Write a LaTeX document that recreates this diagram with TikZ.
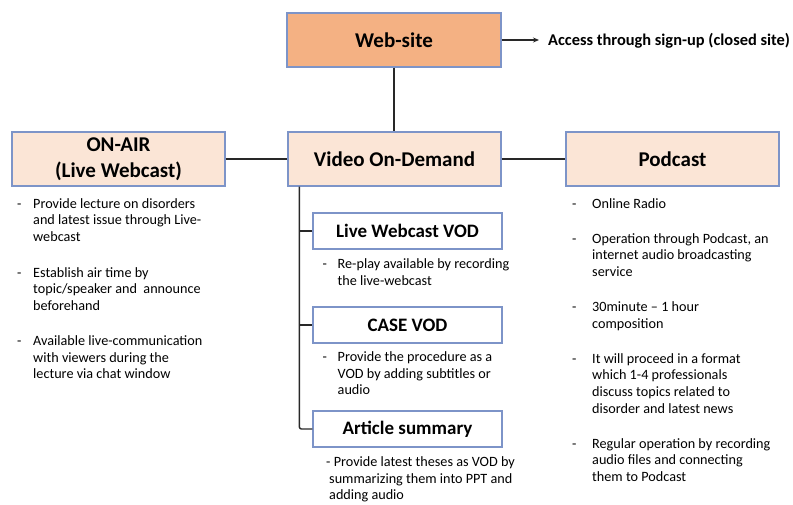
\documentclass[tikz,border=0pt]{standalone}
\usepackage{fontspec}
\setmainfont{Carlito}
\usetikzlibrary{arrows.meta,calc}
\definecolor{bordc}{RGB}{125,148,200}
\definecolor{orangef}{RGB}{244,177,131}
\definecolor{peachf}{RGB}{251,229,214}
\definecolor{linec}{RGB}{40,40,40}
\newcommand\txtl[1]{\begin{tabular}[t]{@{}l@{}}#1\end{tabular}}
\begin{document}
\begin{tikzpicture}[x=1pt,y=-1pt,
  bigbox/.style={draw=bordc,line width=1.2pt,minimum width=213pt,minimum height=54pt,inner sep=0pt,align=center,font=\bfseries\fontsize{21}{25.5}\selectfont},
  subbox/.style={draw=bordc,line width=1.2pt,fill=white,minimum width=189pt,minimum height=36pt,inner sep=0pt,font=\bfseries\fontsize{19}{22}\selectfont},
  itm/.style={anchor=base west,inner sep=0pt,font=\fontsize{14.2}{16.7}\selectfont},
  conn/.style={draw=linec,line width=1.4pt},
  thick conn/.style={draw=linec,line width=2.4pt}]
\useasboundingbox (0,0) rectangle (793,504);
\fill[white] (0,0) rectangle (793,504);

% main boxes
\node[bigbox,fill=orangef,minimum width=214pt] (web) at (394,40) {Web-site};
\node[bigbox,fill=peachf] (onair) at (118.5,159) {ON-AIR\\(Live Webcast)};
\node[bigbox,fill=peachf] (vod) at (394.5,159) {Video On-Demand};
\node[bigbox,fill=peachf] (pod) at (672.5,159) {Podcast};

% access
\coordinate (acc) at (539,40);
\node[anchor=west,inner sep=0pt,font=\bfseries\fontsize{16.4}{19}\selectfont] (acct) at (548,41) {Access through sign-up (closed site)};
\draw[conn,line width=1.1pt,-{Stealth[length=6pt,width=5pt]}] (web.east) -- (acc);

% sub boxes
\node[subbox] (live) at (407.5,231) {Live Webcast VOD};
\node[subbox] (case) at (407.5,325) {CASE VOD};
\node[subbox] (art) at (407.5,429) {Article summary};

% connectors
\draw[thick conn] (web.south) -- (web.south |- vod.north);
\draw[conn] (onair.east) -- (vod.west);
\draw[conn] (vod.east) -- (pod.west);
\coordinate (spine) at ($(vod.south west)+(12,0)$);
\draw[conn,rounded corners=2pt] (spine) -- (spine |- art.west) -- (art.west);
\draw[conn] (spine |- live.west) -- (live.west);
\draw[conn] (spine |- case.west) -- (case.west);

% ON-AIR items
\node[itm] (oa1d) at (17,208) {-};
\node[itm] (oa1) at (33,208) {\txtl{Provide lecture on disorders\\and latest issue through Live-\\webcast}};
\node[itm] (oa2d) at (17,277) {-};
\node[itm] (oa2) at (33,277) {\txtl{Establish air time by\\topic/speaker and\ \ announce\\beforehand}};
\node[itm] (oa3d) at (17,345.4) {-};
\node[itm] (oa3) at (33,345.4) {\txtl{Available live-communication\\with viewers during the\\lecture via chat window}};

% VOD items
\node[itm] (lv1d) at (322.5,268.5) {-};
\node[itm] (lv1) at (337.5,268.5) {\txtl{Re-play available by recording\\the live-webcast}};
\node[itm] (cs1d) at (322.5,361.5) {-};
\node[itm] (cs1) at (337.5,361.5) {\txtl{Provide the procedure as a\\VOD by adding subtitles or\\audio}};
\node[itm] (ar1) at (326,466.5) {\txtl{- Provide latest theses as VOD by\\\hspace{3pt}summarizing them into PPT and\\\hspace{3pt}adding audio}};

% Podcast items
\node[itm] (pd1d) at (572,208) {-};
\node[itm] (pd1) at (592,208) {Online Radio};
\node[itm] (pd2d) at (572,243) {-};
\node[itm] (pd2) at (592,243) {\txtl{Operation through Podcast, an\\internet audio broadcasting\\service}};
\node[itm] (pd3d) at (572,311.4) {-};
\node[itm] (pd3) at (592,311.4) {\txtl{30minute -- 1 hour\\composition}};
\node[itm] (pd4d) at (572,363) {-};
\node[itm] (pd4) at (592,363) {\txtl{It will proceed in a format\\which 1-4 professionals\\discuss topics related to\\disorder and latest news}};
\node[itm] (pd5d) at (572,448) {-};
\node[itm] (pd5) at (592,448) {\txtl{Regular operation by recording\\audio files and connecting\\them to Podcast}};
\end{tikzpicture}
\end{document}
